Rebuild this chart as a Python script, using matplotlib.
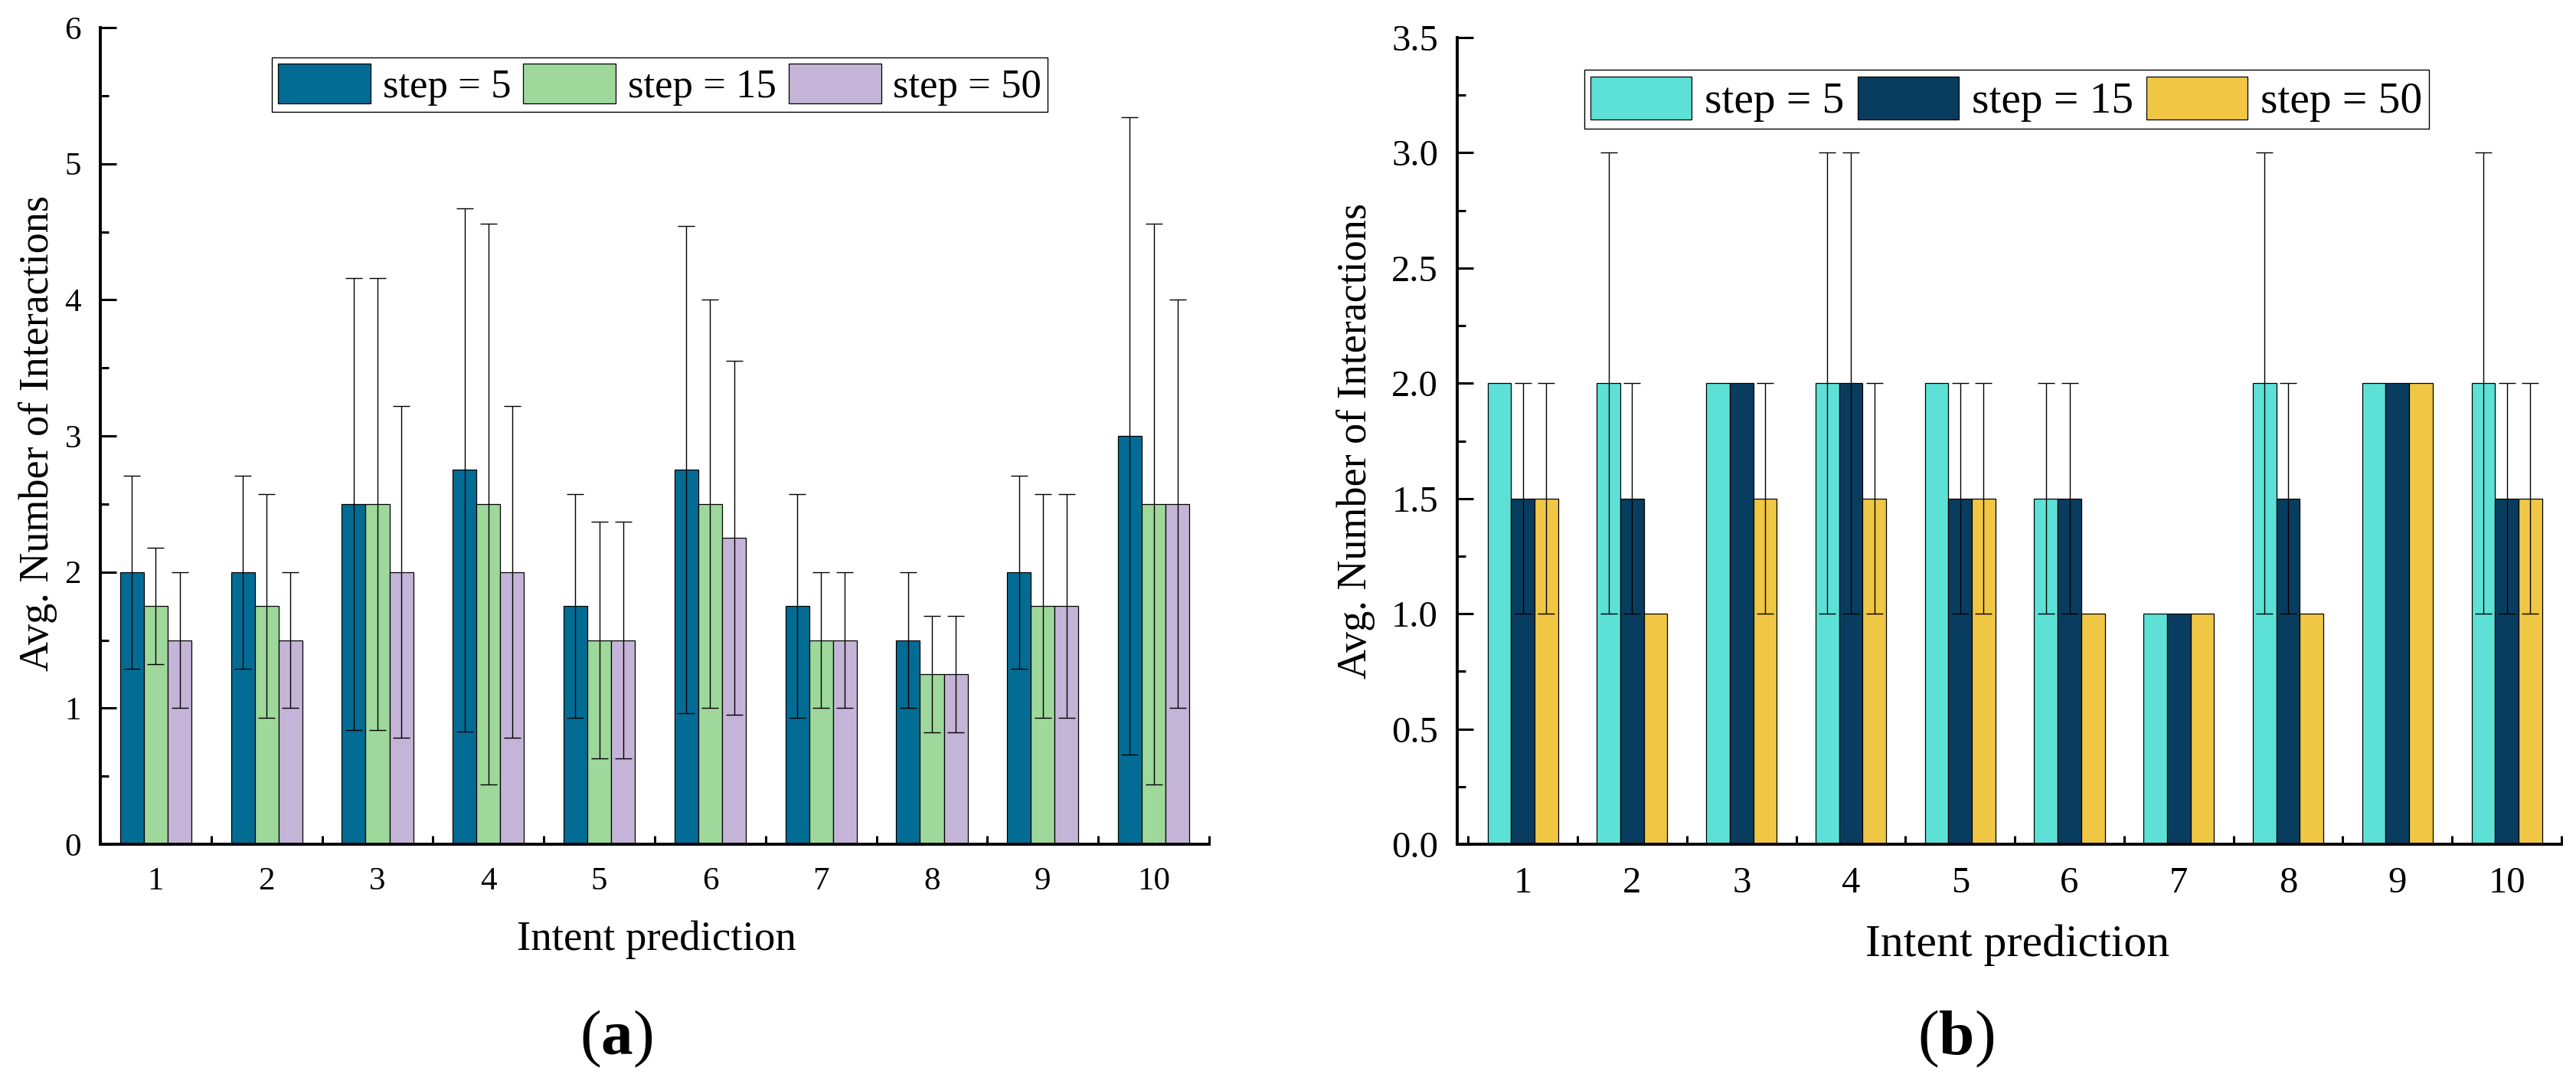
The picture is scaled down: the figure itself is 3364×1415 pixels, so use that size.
import numpy as np
import matplotlib
matplotlib.use("Agg")
import matplotlib.pyplot as plt
from matplotlib.ticker import MultipleLocator, FormatStrFormatter

plt.rcParams['font.family'] = ['Liberation Serif', 'DejaVu Serif']
plt.rcParams['mathtext.fontset'] = 'custom'
plt.rcParams['mathtext.rm'] = 'Liberation Serif'
plt.rcParams['mathtext.bf'] = 'Liberation Serif:bold'

# ---------------- data ----------------
categories = [1, 2, 3, 4, 5, 6, 7, 8, 9, 10]
series_labels = ["step = 5", "step = 15", "step = 50"]

# panel (a)
a_step5 = [2.0, 2.0, 2.5, 2.75, 1.75, 2.75, 1.75, 1.5, 2.0, 3.0]
a_step15 = [1.75, 1.75, 2.5, 2.5, 1.5, 2.5, 1.5, 1.25, 1.75, 2.5]
a_step50 = [1.5, 1.5, 2.0, 2.0, 1.5, 2.25, 1.5, 1.25, 1.75, 2.5]
a_err5 = [0.71, 0.71, 1.66, 1.92, 0.82, 1.79, 0.82, 0.5, 0.71, 2.34]
a_err15 = [0.43, 0.82, 1.66, 2.06, 0.87, 1.5, 0.5, 0.43, 0.82, 2.06]
a_err50 = [0.5, 0.5, 1.22, 1.22, 0.87, 1.3, 0.5, 0.43, 0.82, 1.5]

# panel (b)
b_step5 = [2.0, 2.0, 2.0, 2.0, 2.0, 1.5, 1.0, 2.0, 2.0, 2.0]
b_step15 = [1.5, 1.5, 2.0, 2.0, 1.5, 1.5, 1.0, 1.5, 2.0, 1.5]
b_step50 = [1.5, 1.0, 1.5, 1.5, 1.5, 1.0, 1.0, 1.0, 2.0, 1.5]
b_err5 = [0, 1.0, 0, 1.0, 0, 0.5, 0, 1.0, 0, 1.0]
b_err15 = [0.5, 0.5, 0, 1.0, 0.5, 0.5, 0, 0.5, 0, 0.5]
b_err50 = [0.5, 0, 0.5, 0.5, 0.5, 0, 0, 0, 0, 0.5]

a_colors = ["#036C94", "#9ED89B", "#C4B4D7"]
b_colors = ["#5DE1D7", "#083D5F", "#F0C645"]

# ---------------- figure ----------------
W, H = 3364, 1415
DPI = 200
fig = plt.figure(figsize=(W / DPI, H / DPI), dpi=DPI)

ax_a = fig.add_axes([131 / W, 1 - 1102 / H, 1448 / W, 1066 / H])
ax_b = fig.add_axes([1903 / W, 1 - 1102 / H, 1442 / W, 1053 / H])

bw = 0.215
x = np.array(categories, dtype=float)


def draw_panel(ax, vals, errs, colors, tick_fs, leg_fs, leg_anchor):
    offsets = [-bw, 0.0, bw]
    handles = []
    for v, e, c, off, lab in zip(vals, errs, colors, offsets, series_labels):
        b = ax.bar(x + off, v, width=bw, color=c, edgecolor='black',
                   linewidth=0.45, label=lab, zorder=2)
        handles.append(b)
        v = np.asarray(v, dtype=float)
        e = np.asarray(e, dtype=float)
        m = e > 0
        if m.any():
            ax.errorbar((x + off)[m], v[m], yerr=e[m], fmt='none',
                        ecolor='black', elinewidth=0.5, capsize=3.95,
                        capthick=0.5, zorder=3)
    for s in ['top', 'right']:
        ax.spines[s].set_visible(False)
    for s in ['left', 'bottom']:
        ax.spines[s].set_linewidth(1.4)
    ax.set_xticks(categories)
    ax.set_xticklabels([str(c) for c in categories])
    ax.set_xticks(np.arange(0.5, 11.0, 1.0), minor=True)
    ax.tick_params(axis='both', which='major', direction='in', length=7.5,
                   width=1.1, labelsize=tick_fs)
    ax.tick_params(axis='both', which='minor', direction='in', length=3.8,
                   width=1.1)
    ax.tick_params(axis='x', which='major', pad=10.5)
    ax.tick_params(axis='y', which='major', pad=9)
    leg = ax.legend(handles=handles, loc='upper left',
                    bbox_to_anchor=leg_anchor, ncol=3, fontsize=leg_fs,
                    frameon=True, fancybox=False, framealpha=1,
                    edgecolor='black', borderpad=0.15, borderaxespad=0,
                    handlelength=2.29, handleheight=1.13,
                    handletextpad=0.3, columnspacing=0.3)
    leg.get_frame().set_linewidth(0.5)
    return leg


draw_panel(ax_a, [a_step5, a_step15, a_step50], [a_err5, a_err15, a_err50],
           a_colors, 15.5, 19, (0.155, 0.963))
ax_a.set_xlim(0.5, 10.5)
ax_a.set_ylim(0, 6)
ax_a.yaxis.set_major_locator(MultipleLocator(1))
ax_a.yaxis.set_minor_locator(MultipleLocator(0.5))
ax_a.set_xlabel("Intent prediction", fontsize=19.8)
ax_a.set_ylabel("Avg. Number of Interactions", fontsize=19.5)
ax_a.xaxis.set_label_coords(0.502, -0.0929)
ax_a.yaxis.set_label_coords(-0.039, 0.503)

draw_panel(ax_b, [b_step5, b_step15, b_step50], [b_err5, b_err15, b_err50],
           b_colors, 17.5, 20.7, (0.115, 0.960))
ax_b.set_xlim(0.4, 10.5)
ax_b.set_ylim(0, 3.5)
ax_b.yaxis.set_major_locator(MultipleLocator(0.5))
ax_b.yaxis.set_minor_locator(MultipleLocator(0.25))
ax_b.yaxis.set_major_formatter(FormatStrFormatter('%.1f'))
ax_b.set_xlabel("Intent prediction", fontsize=21.5)
ax_b.set_ylabel("Avg. Number of Interactions", fontsize=19.5)
ax_b.xaxis.set_label_coords(0.507, -0.0997)
ax_b.yaxis.set_label_coords(-0.074, 0.5)

fig.text(805 / W, 1 - 1356 / H, r"($\mathbf{a}$)", fontsize=30,
         ha='center', va='center')
fig.text(2554 / W, 1 - 1356 / H, r"($\mathbf{b}$)", fontsize=30,
         ha='center', va='center')

fig.savefig("out.png", dpi=DPI)
